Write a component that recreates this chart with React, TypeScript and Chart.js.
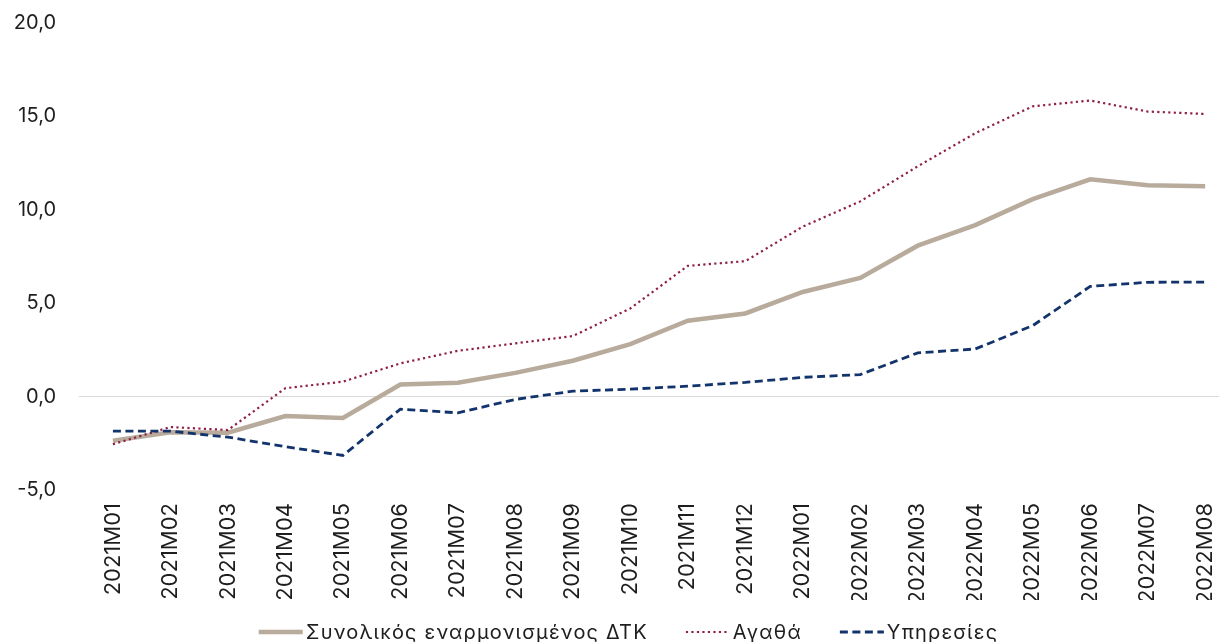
import React, { useEffect, useRef } from "react";
import { Chart, registerables } from "chart.js";

Chart.register(...registerables);

const CATEGORIES = [
  "2021M01", "2021M02", "2021M03", "2021M04", "2021M05", "2021M06", "2021M07",
  "2021M08", "2021M09", "2021M10", "2021M11", "2021M12", "2022M01", "2022M02",
  "2022M03", "2022M04", "2022M05", "2022M06", "2022M07", "2022M08",
];

const TOTAL = [-2.36, -1.91, -1.93, -1.04, -1.14, 0.65, 0.74, 1.27, 1.92, 2.81, 4.06, 4.45, 5.6, 6.35, 8.08, 9.18, 10.57, 11.63, 11.32, 11.26];
const GOODS = [-2.55, -1.63, -1.79, 0.45, 0.8, 1.78, 2.45, 2.85, 3.24, 4.72, 7.0, 7.25, 9.1, 10.45, 12.33, 14.1, 15.54, 15.85, 15.26, 15.13];
const SERVICES = [-1.85, -1.85, -2.17, -2.68, -3.15, -0.67, -0.87, -0.15, 0.29, 0.4, 0.56, 0.76, 1.03, 1.18, 2.34, 2.55, 3.8, 5.9, 6.12, 6.13];

const SERIES_LABELS = ["Συνολικός εναρμονισμένος ΔΤΚ", "Αγαθά", "Υπηρεσίες"];
const Y_MIN = -5;
const Y_MAX = 20;
const Y_STEP = 5;

const FONT = 'Inter, "DejaVu Sans", sans-serif';
const TEXT_COLOR = "#1e1e1e";

const legendPlugin = {
  id: "bottomLegend",
  afterDraw(chart: any) {
    const ctx = chart.ctx as any;
    ctx.save();
    ctx.font = `20px ${FONT}`;
    try { ctx.letterSpacing = "1.2px"; } catch (e) { /* ignore */ }
    ctx.textBaseline = "middle";
    const lineLen = 44;
    const gap = 3;
    const spacing = 38;
    const items = chart.data.datasets.map((ds: any) => ({ ds, w: ctx.measureText(ds.label).width }));
    const total = items.reduce((s: number, it: any) => s + lineLen + gap + it.w, 0) + spacing * (items.length - 1);
    let x = chart.width / 2 + 19 - total / 2;
    const y = 632;
    for (const it of items) {
      ctx.save();
      ctx.strokeStyle = it.ds.borderColor;
      ctx.lineWidth = it.ds.borderWidth;
      ctx.setLineDash(it.ds.borderDash || []);
      ctx.beginPath();
      ctx.moveTo(x, y);
      ctx.lineTo(x + lineLen, y);
      ctx.stroke();
      ctx.restore();
      ctx.fillStyle = TEXT_COLOR;
      ctx.textAlign = "left";
      ctx.fillText(it.ds.label, x + lineLen + gap, y + 1);
      x += lineLen + gap + it.w + spacing;
    }
    ctx.restore();
  },
};

export default function App() {
  const ref = useRef<HTMLCanvasElement | null>(null);

  useEffect(() => {
    if (!ref.current) return;
    const chart = new Chart(ref.current, {
      type: "line",
      data: {
        labels: CATEGORIES,
        datasets: [
          {
            label: SERIES_LABELS[0],
            data: TOTAL.map((v, i) => ({ x: i, y: v })),
            borderColor: "#b8ab9c",
            borderWidth: 4.5,
            pointRadius: 0,
            tension: 0,
            order: 2,
          },
          {
            label: SERIES_LABELS[1],
            data: GOODS.map((v, i) => ({ x: i, y: v })),
            borderColor: "#8e1f45",
            borderWidth: 2.2,
            borderDash: [2.2, 3.3],
            pointRadius: 0,
            tension: 0,
            order: 1,
          },
          {
            label: SERIES_LABELS[2],
            data: SERVICES.map((v, i) => ({ x: i, y: v })),
            borderColor: "#12336b",
            borderWidth: 2.8,
            borderDash: [8, 4.5],
            pointRadius: 0,
            tension: 0,
            order: 0,
          },
        ],
      },
      options: {
        responsive: false,
        animation: false,
        devicePixelRatio: 1,
        layout: { padding: { top: 23, left: 0, right: 0, bottom: 42 } },
        plugins: { legend: { display: false }, tooltip: { enabled: false } },
        scales: {
          x: {
            type: "linear",
            min: -0.59,
            max: 19.24,
            grid: { display: false, drawTicks: false },
            border: { display: false },
            afterBuildTicks: (scale: any) => {
              scale.ticks = CATEGORIES.map((_, i) => ({ value: i }));
            },
            afterFit: (scale: any) => {
              scale.height = 110;
              scale.paddingLeft = 0;
              scale.paddingRight = 0;
            },
            ticks: {
              autoSkip: false,
              minRotation: 90,
              maxRotation: 90,
              padding: 13,
              color: TEXT_COLOR,
              font: { family: FONT, size: 22 },
              callback: (v: any) => CATEGORIES[Math.round(Number(v))] ?? "",
            },
          },
          y: {
            min: Y_MIN,
            max: Y_MAX,
            grid: {
              drawTicks: false,
              color: (c: any) => (c.tick && c.tick.value === 0 ? "#d9d9d9" : "rgba(0,0,0,0)"),
              lineWidth: 1,
            },
            border: { display: false },
            afterFit: (scale: any) => {
              scale.width = 79;
              scale.paddingTop = 0;
              scale.paddingBottom = 0;
            },
            ticks: {
              stepSize: Y_STEP,
              padding: 23,
              color: TEXT_COLOR,
              font: { family: FONT, size: 20 },
              callback: (v: any) => Number(v).toFixed(1).replace(".", ","),
            },
          },
        },
      },
      plugins: [legendPlugin],
    });
    return () => chart.destroy();
  }, []);

  return (
    <div style={{ position: "absolute", left: 0, top: 0, width: 1219, height: 642, background: "#fff" }}>
      <canvas ref={ref} width={1219} height={642} />
    </div>
  );
}
